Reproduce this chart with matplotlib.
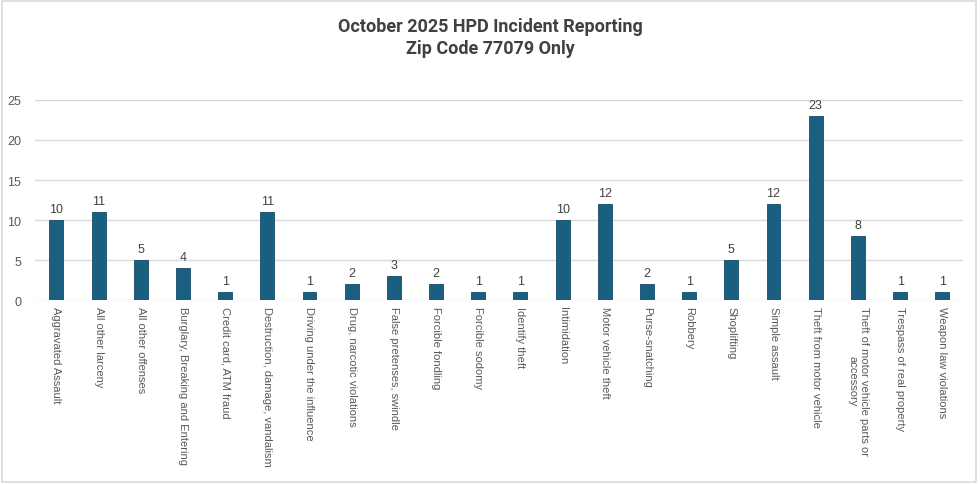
import matplotlib.pyplot as plt
from matplotlib.patches import Rectangle

# Data
categories = [
    "Aggravated Assault", "All other larceny", "All other offenses",
    "Burglary, Breaking and Entering", "Credit card, ATM fraud",
    "Destruction, damage, vandalism", "Driving under the influence",
    "Drug, narcotic violations", "False pretenses, swindle",
    "Forcible fondling", "Forcible sodomy", "Identify theft", "Intimidation",
    "Motor vehicle theft", "Purse-snatching", "Robbery", "Shoplifting",
    "Simple assault", "Theft from motor vehicle",
    "Theft of motor vehicle parts or\naccessory",
    "Trespass of real property", "Weapon law violations",
]
counts = [10, 11, 5, 4, 1, 11, 1, 2, 3, 2, 1, 1, 10, 12, 2, 1, 5, 12, 23, 8, 1, 1]
yticks = [0, 5, 10, 15, 20, 25]

plt.rcParams['font.family'] = ['Liberation Sans', 'DejaVu Sans']

fig = plt.figure(figsize=(9.8, 4.85), dpi=100)
ax = fig.add_axes([0.036, 0.379, 0.947, 0.413])

x = range(len(categories))
ax.bar(x, counts, width=0.33, color='#1b5f80', edgecolor='#154d69', linewidth=0.6, zorder=3)

# Value labels
for i, v in enumerate(counts):
    ax.text(i, v + 0.6, str(v), ha='center', va='bottom', fontsize=9, color='#404040')

ax.set_ylim(0, 25)
ax.set_xlim(-0.5, len(categories) - 0.5)
ax.set_yticks(yticks)
ax.tick_params(axis='y', length=0, labelsize=9, labelcolor='#595959', pad=10)
ax.grid(axis='y', color='#d9d9d9', linewidth=1, zorder=0)
for s in ax.spines.values():
    s.set_visible(False)

ax.set_xticks(list(x))
ax.set_xticklabels(categories, rotation=-90, fontsize=8, color='#595959',
                   ha='center', va='top', multialignment='center')
ax.tick_params(axis='x', length=0, pad=4)

# Title
fig.text(0.5, 0.945, "October 2025 HPD Incident Reporting", ha='center', va='center',
         fontsize=13, fontweight='bold', color='#404040', family='Roboto')
fig.text(0.5, 0.9, "Zip Code 77079 Only", ha='center', va='center',
         fontsize=13, fontweight='bold', color='#404040', family='Roboto')

# Chart border
fig.patches.append(Rectangle((0.002, 0.004), 0.994, 0.992, transform=fig.transFigure,
                             fill=False, edgecolor='#d9d9d9', linewidth=1.2))

fig.savefig('out.png', dpi=100, facecolor='white')
